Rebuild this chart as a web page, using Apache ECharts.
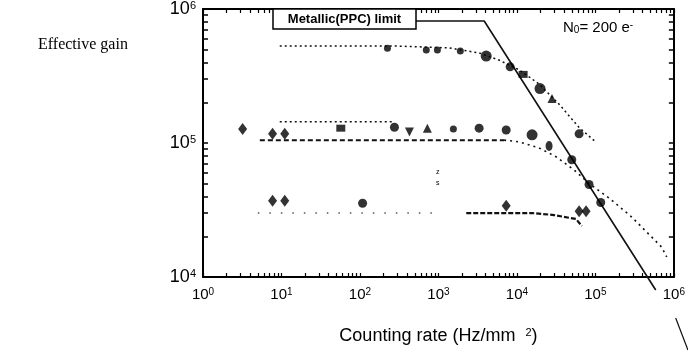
<!DOCTYPE html>
<html>
<head>
<meta charset="utf-8">
<script src="https://cdn.jsdelivr.net/npm/echarts@6/dist/echarts.min.js"></script>
<style>
html,body{margin:0;padding:0;background:#fff;}
#chart{width:688px;height:353px;}
</style>
</head>
<body>
<div id="chart"></div>
<script>
// ---- data ----
const xDecades = [0, 1, 2, 3, 4, 5, 6];
const yDecades = [4, 5, 6];

// top group: measured points
const A_x = [224, 700, 970, 1900, 4060, 8200, 12000, 19700, 28000, 62000];
const A_y = [5.1e5, 4.95e5, 4.95e5, 4.85e5, 4.45e5, 3.7e5, 3.25e5, 2.55e5, 2.15e5, 1.17e5];
const A_shapes = ['dot', 'dot', 'dot', 'dot', 'big', 'circle', 'square', 'big', 'tri', 'circle'];
// top group: fitted curve
const A_fit_x = [9.5, 275, 1375, 3300, 5900, 10700, 19100, 34400, 61700, 98600];
const A_fit_y = [5.3e5, 5.3e5, 5.12e5, 4.7e5, 4.16e5, 3.51e5, 2.76e5, 1.95e5, 1.31e5, 1.03e5];

// middle group: measured points
const B_x = [3.2, 7.7, 11, 57, 275, 427, 723, 1550, 3300, 7300, 15600, 25700, 50000, 83000, 117000];
const B_y = [1.27e5, 1.17e5, 1.17e5, 1.29e5, 1.31e5, 1.21e5, 1.29e5, 1.27e5, 1.29e5, 1.25e5, 1.15e5, 9.5e4, 7.5e4, 4.9e4, 3.6e4];
const B_shapes = ['diamond', 'diamond', 'diamond', 'square', 'circle', 'triDown', 'tri', 'dot', 'circle', 'circle', 'big', 'oval', 'circle', 'circle', 'circle'];
// middle group: fitted curves
const B_fit1_x = [9.5, 275];
const B_fit1_y = [1.44e5, 1.44e5];
const B_flat_x = [5.3, 6870];
const B_flat_y = [1.05e5, 1.05e5];
const B_desc_x = [6870, 10700, 19100, 31500, 53300, 82600, 149000, 291000, 700000, 810000];
const B_desc_y = [1.05e5, 1.02e5, 9.2e4, 7.9e4, 6.3e4, 5.0e4, 3.89e4, 2.8e4, 1.67e4, 1.41e4];

// bottom group: measured points
const C_x = [7.7, 11, 108, 7300, 62000, 76000];
const C_y = [3.7e4, 3.7e4, 3.55e4, 3.4e4, 3.1e4, 3.1e4];
const C_shapes = ['diamond', 'diamond', 'circle', 'diamond', 'diamond', 'diamond'];
// bottom group: fitted curves
const C_sparse_x = [5.0, 900];
const C_sparse_y = [3.0e4, 3.0e4];
const C_fit_x = [2260, 15600, 29700, 56500, 67300];
const C_fit_y = [3.0e4, 3.0e4, 2.9e4, 2.71e4, 2.4e4];

// metallic (PPC) limit
const metal_x = [510, 3830, 587000];
const metal_y = [8.13e5, 8.13e5, 8000];
const metal_tail_x = [1020000, 1460000];
const metal_tail_y = [4940, 2850];

// ---- layout ----
const PLOT = { left: 203, top: 9, width: 472, height: 268 };
const X_RANGE = [0, 6];   // decades
const Y_RANGE = [4, 6];   // decades
// an invisible companion grid reaching the page's bottom-right corner, with the same scale,
// so the limit line can run past the plotted box
const EXT = { left: PLOT.left, top: PLOT.top, width: 688 - PLOT.left, height: 353 - PLOT.top };
const xPerPx = (X_RANGE[1] - X_RANGE[0]) / PLOT.width;
const yPerPx = (Y_RANGE[1] - Y_RANGE[0]) / PLOT.height;
const EXT_X = [X_RANGE[0], X_RANGE[0] + EXT.width * xPerPx];
const EXT_Y = [Y_RANGE[1] - EXT.height * yPerPx, Y_RANGE[1]];

// ---- helpers ----
const FONT = "'Liberation Sans', Arial, sans-serif";
const shapeStyle = {
  dot:     { symbol: 'circle', size: 7 },
  circle:  { symbol: 'circle', size: 9 },
  big:     { symbol: 'circle', size: 11 },
  oval:    { symbol: 'circle', size: [7, 10] },
  square:  { symbol: 'rect', size: [9, 7] },
  diamond: { symbol: 'diamond', size: [9, 12] },
  tri:     { symbol: 'triangle', size: 9 },
  triDown: { symbol: 'triangle', size: 9, rotate: 180 }
};
function pts(xs, ys, shapes) {
  return xs.map((x, i) => {
    const s = shapeStyle[shapes ? shapes[i] : 'circle'];
    const o = { value: [x, ys[i]], symbol: s.symbol, symbolSize: s.size };
    if (s.rotate) o.symbolRotate = s.rotate;
    return o;
  });
}
function pairs(xs, ys) { return xs.map((x, i) => [x, ys[i]]); }
function logPairs(xs, ys) { return xs.map((x, i) => [Math.log10(x), Math.log10(ys[i])]); }
function minorTicks(decs) {
  const out = [];
  for (let d = decs[0]; d < decs[decs.length - 1]; d++) {
    for (let k = 1; k <= 9; k++) out.push(d + Math.log10(k));
  }
  out.push(decs[decs.length - 1]);
  return out;
}
const xTicks = minorTicks(xDecades);
const yTicks = minorTicks(yDecades);
const powLabel = v => '{b|10}{s|' + Math.round(v) + '}';

function lineSeries(xs, ys, style, extra) {
  return Object.assign({
    type: 'line', xAxisIndex: 0, yAxisIndex: 0, data: pairs(xs, ys),
    showSymbol: false, symbol: 'none', smooth: false, silent: true,
    lineStyle: Object.assign({ color: '#111', width: 1.5 }, style), z: 3
  }, extra || {});
}
function scatterSeries(xs, ys, shapes) {
  return {
    type: 'scatter', xAxisIndex: 0, yAxisIndex: 0, data: pts(xs, ys, shapes),
    itemStyle: { color: '#000' }, silent: true, z: 5
  };
}

const chart = echarts.init(document.getElementById('chart'), null, { renderer: 'canvas' });
const axLine = { show: true, lineStyle: { color: '#000', width: 2 } };
const hiddenAxis = { show: false, axisLine: { show: false }, axisTick: { show: false },
                     axisLabel: { show: false }, splitLine: { show: false } };
const option = {
  animation: false,
  backgroundColor: '#fff',
  grid: [
    Object.assign({ containLabel: false }, PLOT),
    Object.assign({ containLabel: false, show: false }, EXT)
  ],
  xAxis: [
    { type: 'log', logBase: 10, min: Math.pow(10, X_RANGE[0]), max: Math.pow(10, X_RANGE[1]), position: 'bottom', axisLine: axLine,
      axisTick: { show: false }, axisLabel: { show: false }, splitLine: { show: false } },
    { type: 'value', min: X_RANGE[0], max: X_RANGE[1], interval: 1, position: 'bottom',
      axisLine: { show: false },
      axisTick: { show: true, inside: true, length: 4, customValues: xTicks, lineStyle: { color: '#000', width: 1.2 } },
      axisLabel: { show: true, margin: 10, formatter: powLabel,
        rich: { b: { fontFamily: FONT, fontSize: 15, color: '#000' },
                s: { fontFamily: FONT, fontSize: 10, color: '#000', verticalAlign: 'top', lineHeight: 10 } } },
      splitLine: { show: false },
      name: 'Counting rate (Hz/mm  {s|2})', nameLocation: 'middle', nameGap: 50,
      nameTextStyle: { fontFamily: FONT, fontSize: 18, color: '#000',
        rich: { s: { fontFamily: FONT, fontSize: 11, color: '#000', verticalAlign: 'top', lineHeight: 11 } } } },
    { type: 'value', min: X_RANGE[0], max: X_RANGE[1], interval: 1, position: 'top', axisLine: axLine,
      axisTick: { show: true, inside: true, length: 4, customValues: xTicks, lineStyle: { color: '#000', width: 1.2 } },
      axisLabel: { show: false }, splitLine: { show: false } },
    Object.assign({ type: 'value', gridIndex: 1, min: EXT_X[0], max: EXT_X[1] }, hiddenAxis)
  ],
  yAxis: [
    { type: 'log', logBase: 10, min: Math.pow(10, Y_RANGE[0]), max: Math.pow(10, Y_RANGE[1]), position: 'left', axisLine: axLine,
      axisTick: { show: false }, axisLabel: { show: false }, splitLine: { show: false } },
    { type: 'value', min: Y_RANGE[0], max: Y_RANGE[1], interval: 1, position: 'left', axisLine: { show: false },
      axisTick: { show: true, inside: true, length: 5, customValues: yTicks, lineStyle: { color: '#000', width: 1.5 } },
      axisLabel: { show: true, margin: 7, formatter: powLabel,
        rich: { b: { fontFamily: FONT, fontSize: 18, color: '#000' },
                s: { fontFamily: FONT, fontSize: 11, color: '#000', verticalAlign: 'top', lineHeight: 11 } } },
      splitLine: { show: false } },
    { type: 'value', min: Y_RANGE[0], max: Y_RANGE[1], interval: 1, position: 'right', axisLine: axLine,
      axisTick: { show: true, inside: true, length: 5, customValues: yTicks, lineStyle: { color: '#000', width: 1.5 } },
      axisLabel: { show: false }, splitLine: { show: false } },
    Object.assign({ type: 'value', gridIndex: 1, min: EXT_Y[0], max: EXT_Y[1] }, hiddenAxis)
  ],
  series: [
    lineSeries(metal_x, metal_y, { width: 1.6, type: 'solid' }, { clip: false }),
    // tail of the limit line beyond the axes, on the companion grid (same decade scale)
    lineSeries(metal_tail_x, metal_tail_y, { width: 1.2, type: 'solid' },
      { clip: false, xAxisIndex: 3, yAxisIndex: 3, data: logPairs(metal_tail_x, metal_tail_y) }),
    lineSeries(A_fit_x, A_fit_y, { width: 1.5, type: [2, 3] }),
    lineSeries(B_fit1_x, B_fit1_y, { width: 1.5, type: [2, 3] }),
    lineSeries(B_flat_x, B_flat_y, { width: 2, type: [5, 3] }),
    lineSeries(B_desc_x, B_desc_y, { width: 1.6, type: [2, 4] }),
    lineSeries(C_sparse_x, C_sparse_y, { width: 1.5, type: [1.5, 10], color: '#555' }),
    lineSeries(C_fit_x, C_fit_y, { width: 2.2, type: [5, 2] }),
    scatterSeries(A_x, A_y, A_shapes),
    scatterSeries(B_x, B_y, B_shapes),
    scatterSeries(C_x, C_y, C_shapes)
  ],
  graphic: [
    { type: 'rect', shape: { x: 273, y: 9, width: 143, height: 20 },
      style: { fill: '#fff', stroke: '#000', lineWidth: 1.5 }, z: 100 },
    { type: 'text', x: 344.5, y: 19, z: 101,
      style: { text: 'Metallic(PPC) limit', font: "bold 13px 'Liberation Sans', Arial, sans-serif",
               fill: '#000', textAlign: 'center', textVerticalAlign: 'middle', verticalAlign: 'middle' } },
    { type: 'text', x: 563, y: 20, z: 101,
      style: { text: '{n|N}{sub|0}{n|= 200 e}{sup|-}', fill: '#000',
        rich: { n: { fontFamily: FONT, fontSize: 15, color: '#000' },
                sub: { fontFamily: FONT, fontSize: 10, color: '#000', verticalAlign: 'bottom', lineHeight: 10 },
                sup: { fontFamily: FONT, fontSize: 10, color: '#000', verticalAlign: 'top', lineHeight: 10 } } } },
    { type: 'text', x: 38, y: 45, z: 101,
      style: { text: 'Effective gain', font: "16px 'Liberation Serif', 'Times New Roman', serif",
               fill: '#000', textVerticalAlign: 'middle', verticalAlign: 'middle' } },
    { type: 'text', x: 436, y: 167, z: 101,
      style: { text: 'z\ns', font: "7px 'Liberation Sans', Arial, sans-serif", fill: '#000', lineHeight: 11 } }
  ]
};
chart.setOption(option);
</script>
</body>
</html>
